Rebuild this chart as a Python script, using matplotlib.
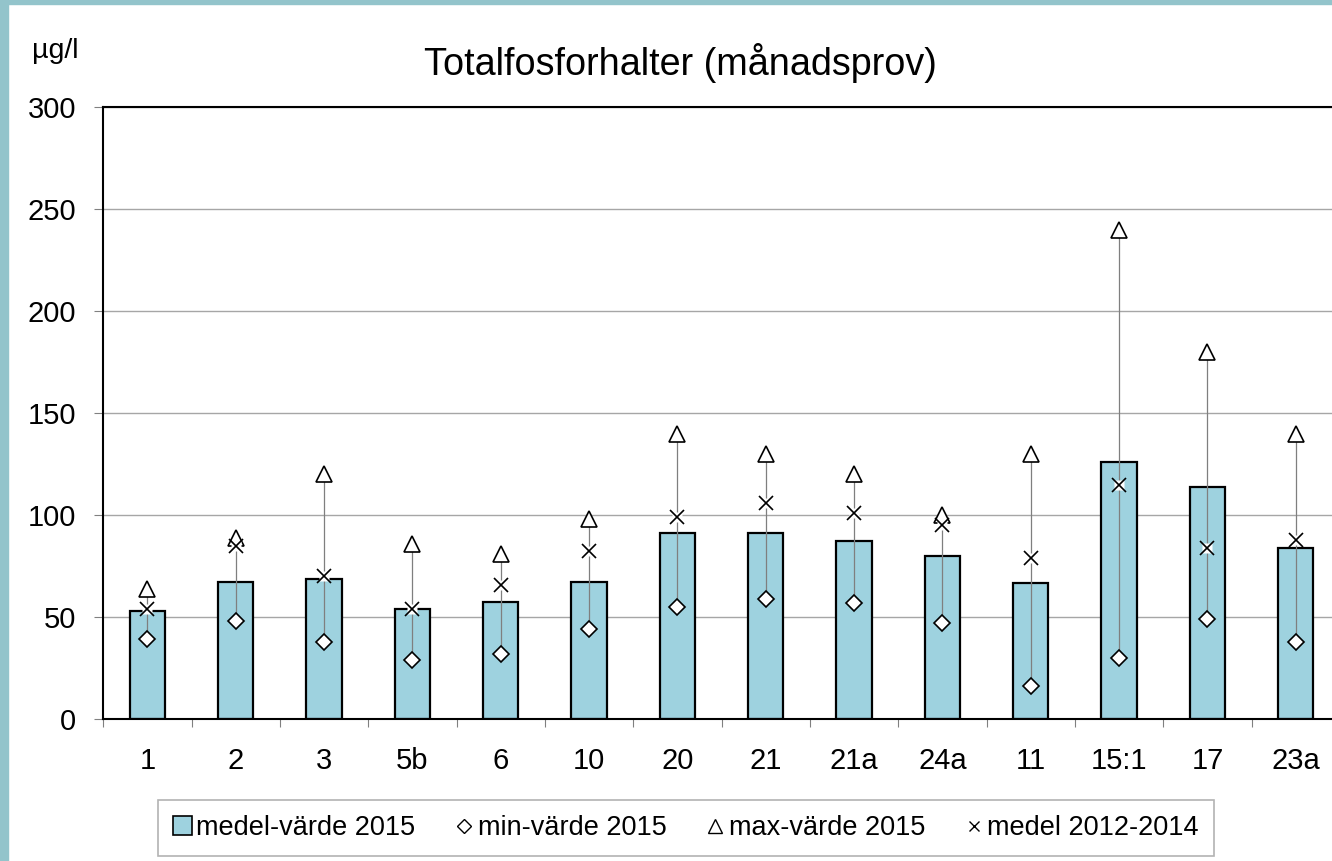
import numpy as np
import matplotlib.pyplot as plt
from matplotlib.patches import Rectangle

plt.rcParams['font.family'] = ['Liberation Sans', 'DejaVu Sans']

# data
cats = ['1', '2', '3', '5b', '6', '10', '20', '21', '21a', '24a', '11', '15:1', '17', '23a']
medel2015 = [53, 67, 68.5, 54, 57.5, 67, 91, 91, 87.5, 80, 66.5, 126, 114, 84]
min2015 = [39, 48, 38, 29, 32, 44, 55, 59, 57, 47, 16, 30, 49, 38]
max2015 = [64, 89, 120, 86, 81, 98, 140, 130, 120, 100, 130, 240, 180, 140]
medel1214 = [54, 85, 70, 54, 65.5, 82.5, 99, 106, 101, 95, 79, 115, 84, 88]

W, H = 1332, 861
fig = plt.figure(figsize=(W / 100, H / 100), dpi=100)

# teal frame strips at left and top
teal = '#93C4CB'
fig.patches.append(Rectangle((0, 0), 8 / W, 1, transform=fig.transFigure, color=teal, zorder=0))
fig.patches.append(Rectangle((0, 1 - 4 / H), 1, 4 / H, transform=fig.transFigure, color=teal, zorder=0))

ax = fig.add_axes([103.3 / W, 1 - 719 / H, 1236.7 / W, 611.7 / H])
x = np.arange(len(cats))

bars = ax.bar(x, medel2015, width=0.4, color='#9ED2DF', edgecolor='black', linewidth=1.6,
              label='medel-värde 2015', zorder=2)
ax.vlines(x, min2015, max2015, color='#7f7f7f', lw=0.9, zorder=3)
l_min, = ax.plot(x, min2015, ls='none', marker='D', ms=8, mfc='white', mec='black', mew=1.2,
                 label='min-värde 2015', zorder=4)
l_max, = ax.plot(x, max2015, ls='none', marker='^', ms=11, mfc='white', mec='black', mew=1.2,
                 label='max-värde 2015', zorder=4)
ax.plot(x, medel1214, ls='none', marker='s', ms=7.5, mfc='white', mec='none', zorder=4)
l_old, = ax.plot(x, medel1214, ls='none', marker='x', ms=10, color='black', mew=1.2,
                 label='medel 2012-2014', zorder=5)

ax.set_xlim(-0.5, len(cats) - 0.5)
ax.set_ylim(0, 300)
ax.set_yticks(np.arange(0, 301, 50))
ax.tick_params(axis='y', labelsize=21, length=6.5, color='#808080', pad=13)
ax.grid(axis='y', color='#a6a6a6', lw=1)
ax.set_axisbelow(True)

ax.set_xticks(np.arange(-0.5, len(cats), 1))
ax.set_xticklabels([])
ax.set_xticks(x, minor=True)
ax.set_xticklabels(cats, minor=True)
ax.tick_params(axis='x', which='major', length=6, color='#808080')
ax.tick_params(axis='x', which='minor', length=0, labelsize=21, pad=20.5)

for s in ax.spines.values():
    s.set_color('black')
    s.set_linewidth(1.5)

fig.text(680 / W, 1 - 63 / H, 'Totalfosforhalter (månadsprov)', ha='center', va='center', fontsize=27.2)
fig.text(32 / W, 1 - 51 / H, 'µg/l', ha='left', va='center', fontsize=20.5)

leg = fig.legend([bars, l_min, l_max, l_old],
                 ['medel-värde 2015', 'min-värde 2015', 'max-värde 2015', 'medel 2012-2014'],
                 loc='center', bbox_to_anchor=(686 / W, 1 - 828 / H), ncol=4, fontsize=19.5,
                 frameon=True, fancybox=False, edgecolor='#a0a0a0', handlelength=0.7,
                 handleheight=0.7, handletextpad=0.15, columnspacing=1.45, borderpad=0.55)
leg.get_frame().set_linewidth(1.2)
sizes = [None, 7.5, 9.5, 7.5]
for h, s in zip(leg.legend_handles, sizes):
    if s is None:
        h.set_linewidth(1.2)
    else:
        h.set_markersize(s)
        h.set_markeredgewidth(1)

fig.savefig('out.png', dpi=100)
